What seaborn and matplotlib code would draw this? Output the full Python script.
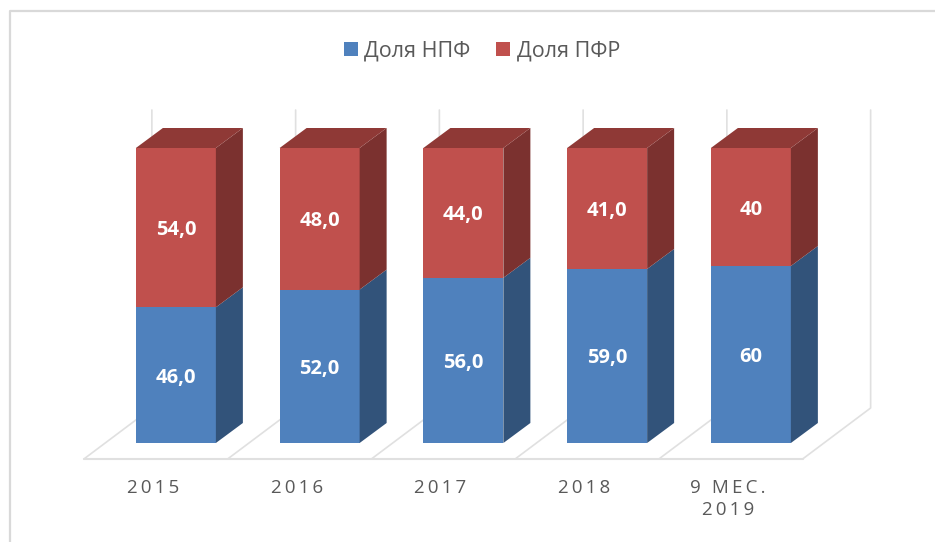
import matplotlib
matplotlib.use("Agg")
import matplotlib.pyplot as plt
from matplotlib.lines import Line2D
from matplotlib.patches import Patch, Polygon
from matplotlib.transforms import ScaledTranslation
import seaborn as sns

categories = ["2015", "2016", "2017", "2018", "9 МЕС.\n2019"]
npf_share = [46.0, 52.0, 56.0, 59.0, 60.0]
pfr_share = [54.0, 48.0, 44.0, 41.0, 40.0]
npf_labels = ["46,0", "52,0", "56,0", "59,0", "60"]
pfr_labels = ["54,0", "48,0", "44,0", "41,0", "40"]
series_names = ["Доля НПФ", "Доля ПФР"]

BLUE, BLUE_SIDE = "#4F81BD", "#32537A"
RED, RED_SIDE, RED_TOP = "#C0504D", "#7B312F", "#8F3936"
GRID = "#E0E0E0"
FRAME = "#D9D9D9"
TEXT = "#595959"

sns.set_style("white")
plt.rcParams["font.family"] = ["Open Sans", "DejaVu Sans"]

W, H = 935, 542
fig = plt.figure(figsize=(W / 100, H / 100), dpi=100)
ax = fig.add_axes([104 / W, (H - 443) / H, 718.75 / W, 295 / H])
px_x = 143.75  # pixels per category
px_y = 2.95    # pixels per percent

sns.barplot(x=categories, y=npf_share, color=BLUE, width=80 / px_x, saturation=1,
            ax=ax, zorder=3, linewidth=0)
sns.barplot(x=categories, y=pfr_share, bottom=npf_share, color=RED, width=80 / px_x,
            saturation=1, ax=ax, zorder=3, linewidth=0)
ax.set_xlim(-0.5, 4.5)
ax.set_ylim(0, 100)
ax.set_ylabel("")

# depth of the fake 3d boxes
half = 40 / px_x
dx, dy = 27 / px_x, 20 / px_y

for i, (a, b) in enumerate(zip(npf_share, pfr_share)):
    r = i + half
    ax.add_patch(Polygon([(r, 0), (r + dx, dy), (r + dx, a + dy), (r, a)],
                         color=BLUE_SIDE, lw=0, zorder=3, clip_on=False))
    ax.add_patch(Polygon([(r, a), (r + dx, a + dy), (r + dx, a + b + dy), (r, a + b)],
                         color=RED_SIDE, lw=0, zorder=3, clip_on=False))
    ax.add_patch(Polygon([(i - half, a + b), (r, a + b), (r + dx, a + b + dy), (i - half + dx, a + b + dy)],
                         color=RED_TOP, lw=0, zorder=3, clip_on=False))

# floor and back wall lines
fx0 = (84 - 176) / px_x
fy0 = -16 / px_y
fdx, fdy = 68 / px_x, 51 / px_y
wall_top = 333 / px_y
ax.add_line(Line2D([fx0, fx0 + 5], [fy0, fy0], color=GRID, lw=1.5, zorder=1, clip_on=False))
for i in range(6):
    x = fx0 + i
    ax.add_line(Line2D([x, x + fdx, x + fdx], [fy0, fy0 + fdy, wall_top], color=GRID,
                       lw=1.2, zorder=1, clip_on=False))

for container, labels in zip(ax.containers, [npf_labels, pfr_labels]):
    texts = ax.bar_label(container, labels=labels, label_type="center", color="white",
                         fontsize=14.5, fontweight="bold", zorder=5)
    for t in texts:
        t.xyann = (0, -1.8)

# letter spaced tick labels, shifted left because the bars sit mid depth
spaced = ["\n".join("\u2009".join(part) for part in c.split("\n")) for c in categories]
ax.set_xticks(range(5))
ax.set_xticklabels(spaced, color=TEXT, fontsize=13.5, linespacing=1.25)
ax.tick_params(axis="x", length=0, pad=26)
shift = ScaledTranslation(-23 / 100, 0, fig.dpi_scale_trans)
for lab in ax.get_xticklabels():
    lab.set_transform(lab.get_transform() + shift)

ax.set_yticks([])
sns.despine(ax=ax, left=True, bottom=True)
ax.patch.set_alpha(0)

handles = [Patch(color=BLUE, lw=0), Patch(color=RED, lw=0)]
fig.legend(handles, series_names, loc="center", bbox_to_anchor=(482 / W, 1 - 51 / H), ncol=2,
           frameon=False, fontsize=15.5, labelcolor=TEXT, handlelength=0.65, handleheight=0.65,
           handletextpad=0.3, columnspacing=1.2)

# outer frame of the pasted chart
fig.add_artist(Line2D([10 / W, 10 / W, 1], [0, 1 - 10.5 / H, 1 - 10.5 / H], color=FRAME, lw=1.6))

fig.savefig("out.png", dpi=100)
